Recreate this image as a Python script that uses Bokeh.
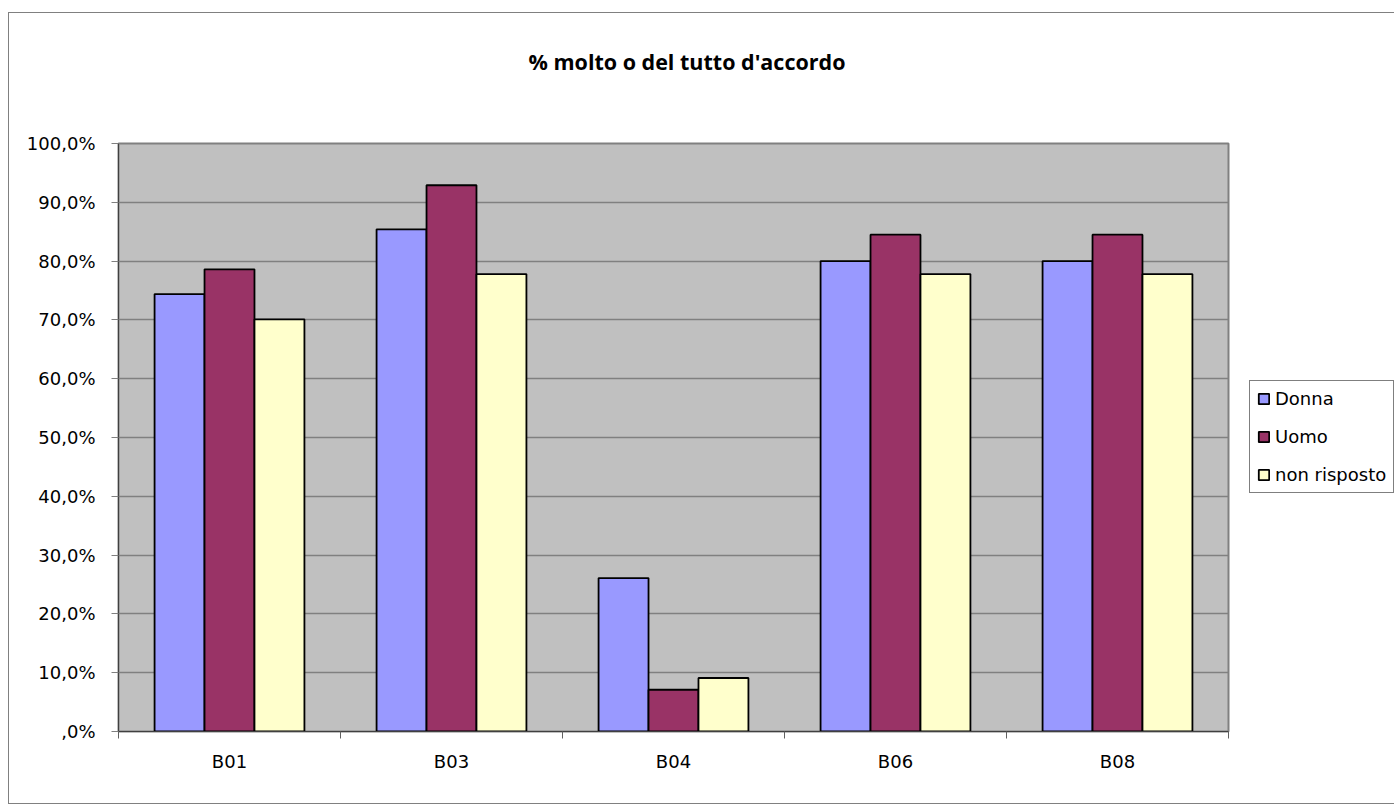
from bokeh.plotting import figure
from bokeh.models import (ColumnDataSource, FixedTicker, Legend, LegendItem, Title, Range1d)
from bokeh.embed import file_html
from bokeh.resources import INLINE

categories = ["B01", "B03", "B04", "B06", "B08"]
donna = [74.4, 85.4, 26.1, 80.0, 80.0]
uomo = [78.6, 92.9, 7.1, 84.5, 84.5]
non_risposto = [70.1, 77.8, 9.1, 77.8, 77.8]
series_names = ["Donna", "Uomo", "non risposto"]
series_colors = ["#9999FF", "#993366", "#FFFFCC"]
y_ticks = [0, 10, 20, 30, 40, 50, 60, 70, 80, 90, 100]
y_tick_labels = [",0%", "10,0%", "20,0%", "30,0%", "40,0%", "50,0%", "60,0%", "70,0%", "80,0%", "90,0%", "100,0%"]
title_text = "% molto o del tutto d'accordo"

FONT = "DejaVu Sans"
n = len(categories)
bw = 0.225

p = figure(frame_width=1110, frame_height=588, output_backend="svg", toolbar_location=None,
           x_range=Range1d(0, n), y_range=Range1d(0, 100),
           min_border_left=109, min_border_top=130, min_border_right=164, min_border_bottom=72)
p.styles = {"border": "1px solid #808080", "margin-top": "12px", "margin-left": "8px"}
p.background_fill_color = "#C0C0C0"
p.border_fill_color = "white"
p.outline_line_color = "#808080"
p.outline_line_width = 2

centers = [i + 0.5 for i in range(n)]
renderers = []
for k, (vals, name, col) in enumerate(zip([donna, uomo, non_risposto], series_names, series_colors)):
    src = ColumnDataSource(dict(x=[c + (k - 1) * bw for c in centers], top=vals, cat=categories))
    r = p.vbar(x="x", top="top", bottom=0, width=bw, source=src, fill_color=col,
               line_color="black", line_width=1.8)
    renderers.append(r)

# grid
p.xgrid.visible = False
p.ygrid.ticker = FixedTicker(ticks=y_ticks)
p.ygrid.grid_line_color = "#808080"
p.ygrid.grid_line_width = 1.5

# y axis
p.yaxis.ticker = FixedTicker(ticks=y_ticks)
p.yaxis.major_label_overrides = {t: l for t, l in zip(y_ticks, y_tick_labels)}
p.yaxis.major_label_text_font = FONT
p.yaxis.major_label_text_font_size = "18px"
p.yaxis.major_label_text_color = "black"
p.yaxis.major_tick_out = 7
p.yaxis.major_tick_in = 0
p.yaxis.minor_tick_out = 0
p.yaxis.minor_tick_in = 0
p.yaxis.major_tick_line_color = "#808080"
p.yaxis.axis_line_color = "#404040"
p.yaxis.major_label_standoff = 16

# x axis
p.xaxis.ticker = FixedTicker(ticks=centers, minor_ticks=list(range(n + 1)))
p.xaxis.major_label_overrides = {c: lab for c, lab in zip(centers, categories)}
p.xaxis.major_tick_out = 0
p.xaxis.major_tick_in = 0
p.xaxis.minor_tick_out = 7
p.xaxis.minor_tick_in = 0
p.xaxis.minor_tick_line_color = "#606060"
p.xaxis.axis_line_color = "#404040"
p.xaxis.major_label_text_font = FONT
p.xaxis.major_label_text_font_size = "18px"
p.xaxis.major_label_text_color = "black"
p.xaxis.major_label_standoff = 12

# title
p.title = Title(text=title_text, align="left", offset=410, standoff=66, vertical_align="top",
                padding=(0, 0, 0, 33),
                text_font="Open Sans", text_font_style="bold", text_font_size="21.5px",
                text_color="black")

legend = Legend(items=[LegendItem(label=nm, renderers=[r]) for nm, r in zip(series_names, renderers)],
                location=(21, 238), orientation="vertical",
                label_text_font=FONT, label_text_font_size="18px", label_text_color="black",
                glyph_width=13, glyph_height=13, label_standoff=5, spacing=17,
                padding=7, margin=8, border_line_color="black", border_line_width=1,
                background_fill_color="white", background_fill_alpha=1.0)
p.add_layout(legend, "right")

open("out.html", "w").write(file_html(p, INLINE))
